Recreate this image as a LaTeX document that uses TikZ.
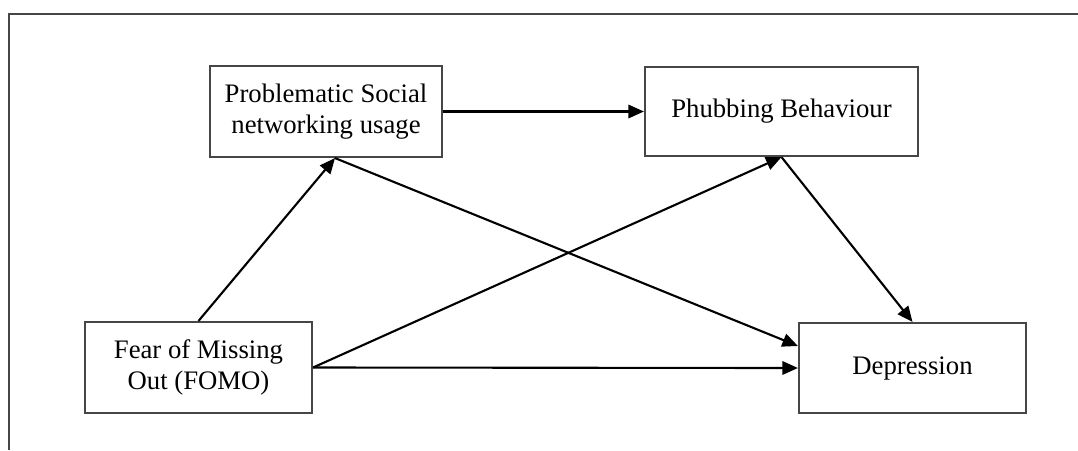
\documentclass[tikz,border=0pt]{standalone}
\usepackage{fontspec}
\setmainfont{Liberation Serif}
\usepackage{tikz}
\usetikzlibrary{
    positioning,
    arrows.meta
}
\definecolor{frameGray}{RGB}{70, 70, 70}

\begin{document}
\begin{tikzpicture}[x=0.025cm, y=-0.025cm, >={Triangle[length=11pt, width=9.5pt]},
        varbox/.style={draw=frameGray, line width=1.5pt, align=center, inner sep=0pt,
            font=\fontsize{19}{22}\selectfont},
        path/.style={->, line width=1.5pt, black}]
        \useasboundingbox (0,0) rectangle (1078,450);
        \coordinate (TL) at (9,14);
        \coordinate (TR) at (1078,14);
        \coordinate (BL) at (9,450);
        
        \draw[frameGray, line width=1.5pt] (TR)--(TL)--(BL);
        
        \node[varbox, minimum width=5.8cm, minimum height=2.275cm] (psn) at (326,111.5)
            {Problematic Social\\networking usage};
        \node[varbox, minimum width=6.825cm, minimum height=2.225cm] (pb) at (781.5,111.5)
            {Phubbing Behaviour};
        \node[varbox, minimum width=5.675cm, minimum height=2.275cm] (fomo) at (198.5,367.5)
            {Fear of Missing\\Out (FOMO)};
        \node[varbox, minimum width=5.675cm, minimum height=2.25cm] (dep) at (912.5,368)
            {Depression};
        
        \draw[path] (fomo.north)--([xshift=0.225cm]psn.south);
        \draw[path] (psn.east)--(pb.west);
        \draw[path] ([xshift=0.225cm]psn.south)--([yshift=0.55cm]dep.west);
        \draw[path] (fomo.east)--(pb.south);
        \draw[path] (fomo.east)--(dep.west);
        \draw[path] (pb.south)--(dep.north);
    \end{tikzpicture}
\end{document}
